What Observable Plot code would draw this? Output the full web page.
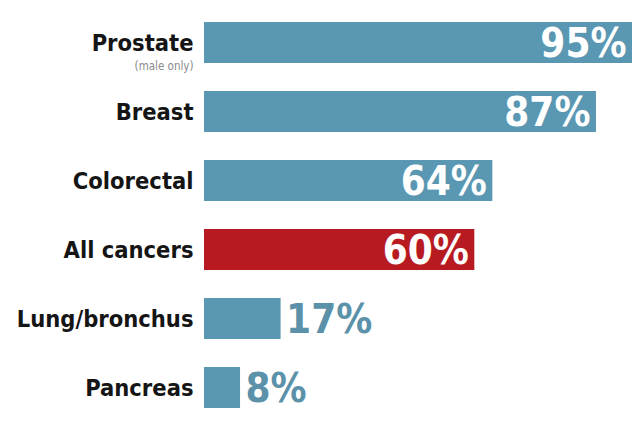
<!DOCTYPE html>
<html>
<head>
<meta charset="utf-8">
<script src="https://cdn.jsdelivr.net/npm/d3@7"></script>
<script src="https://cdn.jsdelivr.net/npm/@observablehq/plot@0.6"></script>
<style>
  html, body { margin: 0; padding: 0; background: #fff; }
  #chart { width: 640px; height: 421px; }
</style>
</head>
<body>
<div id="chart"></div>
<script>
const categories = ["Prostate", "Breast", "Colorectal", "All cancers", "Lung/bronchus", "Pancreas"];
const values = [95, 87, 64, 60, 17, 8];
const notes = ["(male only)", "", "", "", "", ""];
const highlight = "All cancers";

const data = categories.map((c, i) => ({
  category: c,
  value: values[i],
  note: notes[i],
  label: values[i] + "%",
  inside: values[i] >= 50,
  hl: c === highlight
}));

const blue = "#5a97b2";
const red = "#b71b21";
const outsideColor = "#5b91a9";

const chart = Plot.plot({
  width: 640,
  height: 421,
  marginLeft: 204,
  marginRight: 8,
  marginTop: 15,
  marginBottom: 5,
  style: { fontFamily: "'DejaVu Sans Condensed', 'DejaVu Sans', sans-serif", background: "#fff" },
  x: { domain: [0, 95], axis: null },
  y: { domain: categories, axis: null, paddingInner: 0.4, paddingOuter: 0.1 },
  marks: [
    Plot.barX(data, { x: "value", y: "category", fill: d => d.hl ? red : blue }),
    Plot.text(data, {
      x: 0, y: "category", text: "category", textAnchor: "end", dx: -11,
      fontSize: 23.5, fontWeight: "bold", fill: "#151515"
    }),
    Plot.text(data.filter(d => d.note), {
      x: 0, y: "category", text: "note", textAnchor: "end", dx: -11, dy: 23.5,
      fontSize: 11.5, fill: "#8a8a8a"
    }),
    Plot.text(data.filter(d => d.inside), {
      x: "value", y: "category", text: "label", textAnchor: "end", dx: -6, dy: 1,
      fontSize: 40, fontWeight: "bold", fill: "#fff"
    }),
    Plot.text(data.filter(d => !d.inside), {
      x: "value", y: "category", text: "label", textAnchor: "start", dx: 5, dy: 1,
      fontSize: 40, fontWeight: "bold", fill: outsideColor
    })
  ]
});
document.getElementById("chart").appendChild(chart);
</script>
</body>
</html>
